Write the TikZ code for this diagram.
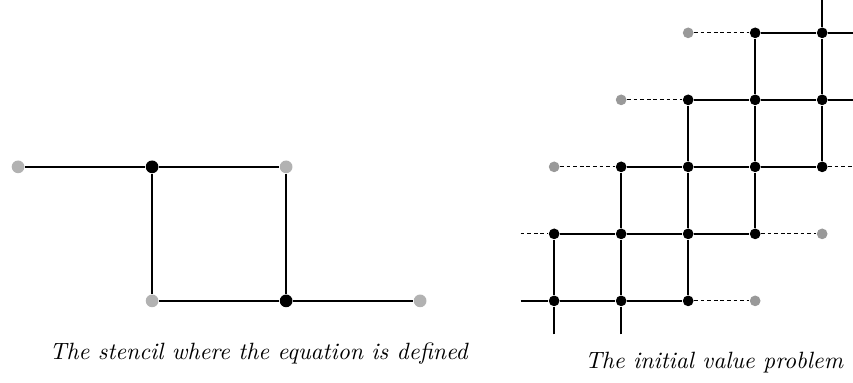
\documentclass[tikz,border=0pt]{standalone}
\usepackage{amsmath}
\usepackage{amssymb}
\usepackage{tikz}

\tikzset{
  bdot/.style={circle,fill=black,inner sep=0pt,minimum size=0.16cm},
  gdot/.style={circle,fill=gray!80,inner sep=0pt,minimum size=0.16cm},
  lgdot/.style={circle,fill=gray!60,inner sep=0pt,minimum size=0.19cm},
  lbdot/.style={circle,fill=black,inner sep=0pt,minimum size=0.19cm},
  edge/.style={line width=0.95pt},
  ghost/.style={line width=0.45pt,dash pattern=on 1.6pt off 1.2pt}
}

\begin{document}
\begin{tikzpicture}
\useasboundingbox (-8.27,-1.22) rectangle (4.46,4.49);

%Stencil
\node[lgdot] (s1) at (-8,2) {}; \node[lbdot] (s2) at (-6,2) {}; \node[lgdot] (s3) at (-4,2) {};
\node[lgdot] (s4) at (-6,0) {}; \node[lbdot] (s5) at (-4,0) {}; \node[lgdot] (s6) at (-2,0) {};

\draw[edge] (s1)--(s2)--(s3); \draw[edge] (s2)--(s4); \draw[edge] (s3)--(s5);
\draw[edge] (s4)--(s5)--(s6);

\node[anchor=base] (cap1) at (-4.4,-0.87) {\textit{The stencil where the equation is defined}};

%Initial value problem
\node[bdot] (p00) at (0,0) {}; \node[bdot] (p10) at (1,0) {}; \node[bdot] (p20) at (2,0) {}; \node[gdot] (g30) at (3,0) {};
\node[bdot] (p01) at (0,1) {}; \node[bdot] (p11) at (1,1) {}; \node[bdot] (p21) at (2,1) {}; \node[bdot] (p31) at (3,1) {}; \node[gdot] (g41) at (4,1) {};
\node[gdot] (g02) at (0,2) {}; \node[bdot] (p12) at (1,2) {}; \node[bdot] (p22) at (2,2) {}; \node[bdot] (p32) at (3,2) {}; \node[bdot] (p42) at (4,2) {};
\node[gdot] (g13) at (1,3) {}; \node[bdot] (p23) at (2,3) {}; \node[bdot] (p33) at (3,3) {}; \node[bdot] (p43) at (4,3) {};
\node[gdot] (g24) at (2,4) {}; \node[bdot] (p34) at (3,4) {}; \node[bdot] (p44) at (4,4) {};

%loose ends
\coordinate (w0) at (-0.5,0); \coordinate (w1) at (-0.5,1);
\coordinate (e2) at (4.5,2); \coordinate (e3) at (4.5,3); \coordinate (e4) at (4.5,4);
\coordinate (b0) at (0,-0.5); \coordinate (b1) at (1,-0.5); \coordinate (t4) at (4,4.5);

\draw[edge] (w0)--(p00)--(p10)--(p20); \draw[edge] (p01)--(p11)--(p21)--(p31);
\draw[edge] (p12)--(p22)--(p32)--(p42); \draw[edge] (p23)--(p33)--(p43)--(e3);
\draw[edge] (p34)--(p44)--(e4);

\draw[edge] (b0)--(p00)--(p01); \draw[edge] (b1)--(p10)--(p11)--(p12);
\draw[edge] (p20)--(p21)--(p22)--(p23); \draw[edge] (p31)--(p32)--(p33)--(p34);
\draw[edge] (p42)--(p43)--(p44)--(t4);

\draw[ghost] (p20)--(g30); \draw[ghost] (w1)--(p01); \draw[ghost] (p31)--(g41);
\draw[ghost] (g02)--(p12); \draw[ghost] (p42)--(e2); \draw[ghost] (g13)--(p23); \draw[ghost] (g24)--(p34);

\node[anchor=base] (cap2) at (2.39,-1.01) {\textit{The initial value problem}};

\end{tikzpicture}
\end{document}
